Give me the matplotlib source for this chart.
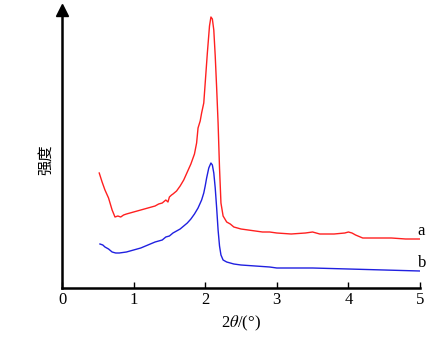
import matplotlib.pyplot as plt

# 衍射数据（从图上读取，任意强度单位）
x_a = [0.52, 0.56, 0.60, 0.65, 0.70, 0.74, 0.78, 0.82, 0.86, 0.90, 0.95, 1.00, 1.05,
       1.10, 1.15, 1.20, 1.25, 1.30, 1.35, 1.40, 1.45, 1.48, 1.50, 1.53, 1.55,
       1.60, 1.65, 1.70, 1.75, 1.80, 1.85, 1.88, 1.90, 1.93, 1.95, 1.98, 2.00,
       2.03, 2.06, 2.08, 2.10, 2.12, 2.14, 2.16, 2.18, 2.20, 2.22, 2.25, 2.30,
       2.35, 2.40, 2.50, 2.60, 2.70, 2.80, 2.90, 3.00, 3.20, 3.40, 3.50, 3.60,
       3.80, 3.95, 4.00, 4.05, 4.10, 4.20, 4.40, 4.60, 4.80, 5.00]
y_a = [115, 106, 98, 90, 78, 71, 72, 71, 73, 74, 75, 76, 77,
       78, 79, 80, 81, 82, 84, 85, 88, 86, 91, 93, 94,
       97, 102, 108, 116, 124, 134, 145, 160, 167, 175, 185, 205,
       235, 262, 271, 269, 258, 232, 200, 165, 120, 85, 72, 66,
       64, 61, 59, 58, 57, 56, 56, 55, 54, 55, 56, 54,
       54, 55, 56, 55, 53, 50, 50, 50, 49, 49]

x_b = [0.53, 0.57, 0.60, 0.65, 0.70, 0.75, 0.80, 0.90, 1.00, 1.10, 1.20, 1.30, 1.40,
       1.45, 1.50, 1.55, 1.60, 1.65, 1.70, 1.75, 1.80, 1.85, 1.90, 1.95, 1.98,
       2.00, 2.02, 2.05, 2.08, 2.10, 2.12, 2.14, 2.16, 2.18, 2.20, 2.22, 2.25,
       2.30, 2.40, 2.50, 2.70, 2.90, 3.00, 3.50, 4.00, 4.50, 5.00]
y_b = [44, 43, 41, 39, 36, 35, 35, 36, 38, 40, 43, 46, 48,
       51, 52, 55, 57, 59, 62, 65, 69, 74, 80, 88, 95,
       102, 110, 120, 125, 123, 115, 100, 80, 58, 42, 33, 28,
       26, 24, 23, 22, 21, 20, 20, 19, 18, 17]

plt.rcParams['font.family'] = ['Liberation Serif', 'Noto Sans CJK SC', 'DejaVu Sans']
plt.rcParams['mathtext.fontset'] = 'stix'

fig = plt.figure(figsize=(4.46, 3.42), dpi=100)
ax = fig.add_axes([62 / 446, 1 - 288 / 342, (420 - 62) / 446, 278 / 342])

ax.plot(x_a, y_a, color='#ff2020', lw=1.0)
ax.plot(x_b, y_b, color='#2020e0', lw=1.0)

ax.set_xlim(0, 5)
ax.set_ylim(0, 278)
ax.spines['top'].set_visible(False)
ax.spines['right'].set_visible(False)
ax.spines['left'].set_linewidth(1.8)
ax.spines['bottom'].set_linewidth(1.8)
ax.set_yticks([])
ax.set_xticks([0, 1, 2, 3, 4, 5])
ax.tick_params(axis='x', direction='in', length=4, width=1, labelsize=12, pad=3)

# 纵轴箭头
ax.plot(0, 1, marker='^', markersize=9, color='black', transform=ax.transAxes,
        clip_on=False)

ax.text(4.97, 57, 'a', fontsize=12, ha='left', va='center')
ax.text(4.97, 25, 'b', fontsize=12, ha='left', va='center')

ax.text(-0.047, 0.46, '强度', family=['Noto Sans CJK SC'], fontsize=11,
        rotation=90, ha='center', va='center', transform=ax.transAxes)
ax.set_xlabel('2$\\it{\\theta}$/(°)', fontsize=12, labelpad=4)

plt.savefig('out.png', dpi=100)
